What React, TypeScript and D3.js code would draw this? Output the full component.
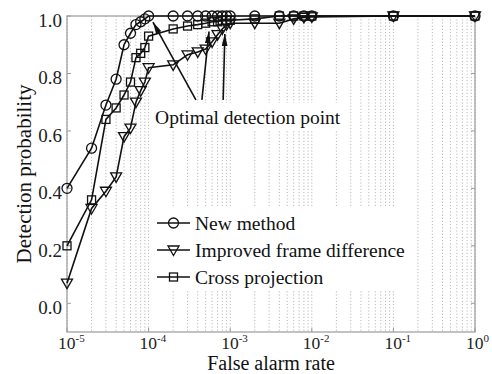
import * as d3 from 'd3';

// false alarm rate (shared by all three curves)
const falseAlarm = [
  1e-5, 2e-5, 3e-5, 4e-5, 5e-5, 6e-5, 7e-5, 8e-5, 9e-5, 1e-4,
  2e-4, 3e-4, 4e-4, 5e-4, 6e-4, 7e-4, 8e-4, 9e-4, 1e-3,
  2e-3, 4e-3, 6e-3, 8e-3, 1e-2, 1e-1, 1,
];
const newMethod = [
  0.40, 0.54, 0.69, 0.78, 0.90, 0.94, 0.97, 0.98, 0.99, 1.0,
  1.0, 1.0, 1.0, 1.0, 1.0, 1.0, 1.0, 1.0, 1.0,
  1.0, 1.0, 1.0, 1.0, 1.0, 1.0, 1.0,
];
const improvedFrameDiff = [
  0.07, 0.33, 0.39, 0.44, 0.58, 0.61, 0.70, 0.74, 0.77, 0.82,
  0.83, 0.865, 0.875, 0.885, 0.91, 0.935, 0.955, 0.97, 0.975,
  0.975, 0.975, 0.99, 0.995, 0.997, 1.0, 1.0,
];
const crossProjection = [
  0.20, 0.36, 0.64, 0.68, 0.725, 0.77, 0.855, 0.87, 0.89, 0.93,
  0.955, 0.965, 0.97, 0.975, 0.98, 0.98, 0.985, 0.985, 0.985,
  0.99, 1.0, 1.0, 1.0, 1.0, 1.0, 1.0,
];

const seriesNames = ['New method', 'Improved frame difference', 'Cross projection'];
const yTicks = [0.0, 0.2, 0.4, 0.6, 0.8, 1.0];
const xDecades = [-5, -4, -3, -2, -1, 0];

// "Optimal detection point" arrows: [x, y] in data units
const arrowTail = [[3.8e-4, 0.708], [4.5e-4, 0.708], [8.2e-4, 0.708]];
const arrowHead = [[1.13e-4, 0.979], [5.5e-4, 0.946], [8.6e-4, 0.937]];
const annotationText = 'Optimal detection point';

const W = 492;
const H = 374;
const margin = { top: 16, right: 17, bottom: 42, left: 67 };
const FONT = '"Liberation Serif", "Times New Roman", serif';

function Marker({ kind, x, y }: { kind: string; x: number; y: number }) {
  const p = { fill: 'none', stroke: '#111', strokeWidth: 1.3 };
  if (kind === 'circle') return <circle cx={x} cy={y} r={5} {...p} />;
  if (kind === 'square') return <rect x={x - 4} y={y - 4} width={8} height={8} {...p} />;
  return <path d={`M${x - 5.5},${y - 4} L${x + 5.5},${y - 4} L${x},${y + 5.5} Z`} {...p} />;
}

export default function App() {
  const x = d3.scaleLog().domain([1e-5, 1]).range([margin.left, W - margin.right]);
  const y = d3.scaleLinear().domain([-0.1, 1.0]).range([H - margin.bottom, margin.top]);
  const line = d3
    .line<[number, number]>()
    .x((d) => x(d[0]))
    .y((d) => y(d[1]));

  const series = [
    { name: seriesNames[0], values: newMethod, kind: 'circle' },
    { name: seriesNames[1], values: improvedFrameDiff, kind: 'triangle' },
    { name: seriesNames[2], values: crossProjection, kind: 'square' },
  ];

  // grid positions 1..9 x 10^k
  const gridVals: number[] = [];
  xDecades.forEach((k) => {
    if (k === 0) return gridVals.push(1);
    for (let m = 1; m <= 9; m++) gridVals.push(m * Math.pow(10, k));
  });

  const x0 = margin.left;
  const x1 = W - margin.right;
  const yTop = margin.top;
  const yBot = H - margin.bottom;
  const axisColor = '#9a9a9a';

  // legend box
  const leg = { x: 152, y: 208, w: 258, h: 83, row: 27 };

  return (
    <svg
      width={W}
      height={H}
      style={{ position: 'absolute', left: 0, top: 0, background: '#fff' }}
      fontFamily={FONT}
    >
      <rect width={W} height={H} fill="#fff" />
      {/* vertical dotted grid */}
      {gridVals.map((v, i) => (
        <line
          key={i}
          x1={x(v)}
          x2={x(v)}
          y1={yTop}
          y2={yBot}
          stroke="#b8b8b8"
          strokeWidth={1}
          strokeDasharray="1.2,2"
        />
      ))}
      {/* frame */}
      <rect x={x0} y={yTop} width={x1 - x0} height={yBot - yTop} fill="none" stroke={axisColor} strokeWidth={1.2} />
      {/* y ticks */}
      {yTicks.map((t) => (
        <g key={t}>
          <line x1={x0} x2={x0 + 4} y1={y(t)} y2={y(t)} stroke={axisColor} />
          <line x1={x1} x2={x1 - 4} y1={y(t)} y2={y(t)} stroke={axisColor} />
          <text x={x0 - 5} y={y(t) + 11} textAnchor="end" fontSize={19} fill="#222">
            {t.toFixed(1)}
          </text>
        </g>
      ))}
      {/* x tick labels */}
      {xDecades.map((k) => {
        const px = x(Math.pow(10, k));
        return (
          <g key={k}>
            <line x1={px} x2={px} y1={yBot} y2={yBot - 4} stroke={axisColor} />
            <text x={px - 9} y={yBot + 17} fontSize={17.5} fill="#222">
              10
            </text>
            <text x={px + 8.5} y={yBot + 10} fontSize={11} fill="#222">
              {k === 0 ? '0' : `-${-k}`}
            </text>
          </g>
        );
      })}
      {/* series */}
      {series.map((s) => {
        const pts = falseAlarm.map((f, i) => [f, s.values[i]] as [number, number]);
        return (
          <g key={s.name}>
            <path d={line(pts) ?? ''} fill="none" stroke="#111" strokeWidth={1.6} />
            {pts.map((p, i) => (
              <Marker key={i} kind={s.kind} x={x(p[0])} y={y(p[1])} />
            ))}
          </g>
        );
      })}
      {/* annotation */}
      <defs>
        <marker id="ah" viewBox="0 0 12 6" refX="12" refY="3" markerWidth="12" markerHeight="6" orient="auto" markerUnits="userSpaceOnUse">
          <path d="M0,0 L12,3 L0,6 Z" fill="#111" />
        </marker>
      </defs>
      <rect x={x(1.2e-4) - 3} y={y(0.624) - 21} width={195} height={27} fill="#fff" />
      {arrowTail.map((t, i) => (
        <line
          key={i}
          x1={x(t[0])}
          y1={y(t[1])}
          x2={x(arrowHead[i][0])}
          y2={y(arrowHead[i][1])}
          stroke="#111"
          strokeWidth={1.6}
          markerEnd="url(#ah)"
        />
      ))}
      <text x={x(1.2e-4)} y={y(0.624)} fontSize={19.5} fill="#111">
        {annotationText}
      </text>
      {/* legend */}
      <rect x={leg.x} y={leg.y} width={leg.w} height={leg.h} fill="#fff" />
      {series.map((s, i) => {
        const cy = leg.y + 15 + i * leg.row;
        return (
          <g key={s.name}>
            <line x1={157} x2={190} y1={cy} y2={cy} stroke="#111" strokeWidth={1.6} />
            <Marker kind={s.kind} x={173.5} y={cy} />
            <text x={195} y={cy + 6.5} fontSize={19.5} fill="#111">
              {s.name}
            </text>
          </g>
        );
      })}
      {/* axis titles */}
      <text x={(x0 + x1) / 2} y={370} textAnchor="middle" fontSize={20} fill="#111">
        False alarm rate
      </text>
      <text
        transform={`translate(31,${(yTop + yBot) / 2}) rotate(-90)`}
        textAnchor="middle"
        fontSize={21}
        fill="#111"
      >
        Detection probability
      </text>
    </svg>
  );
}
